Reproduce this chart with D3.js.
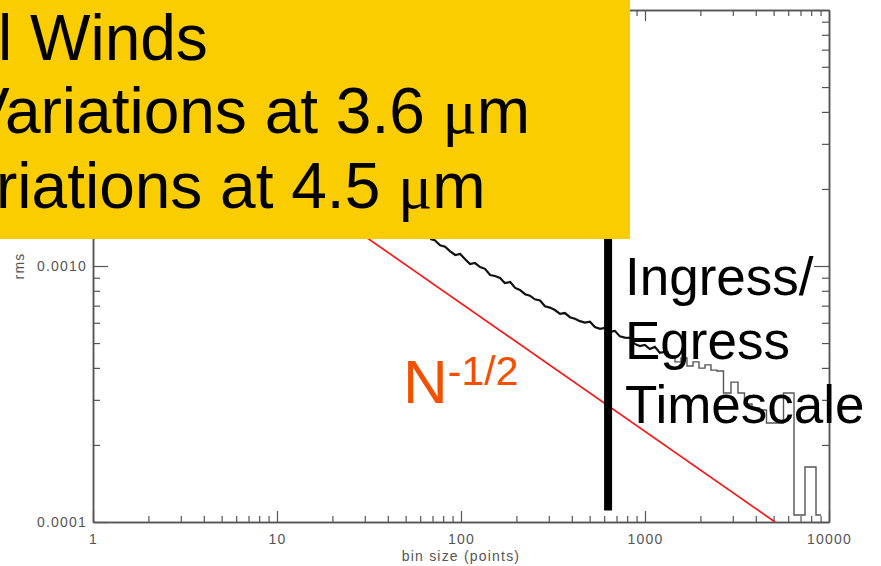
<!DOCTYPE html>
<html>
<head>
<meta charset="utf-8">
<script src="https://cdn.jsdelivr.net/npm/d3@7"></script>
<style>
  body { margin: 0; background: #fff; }
  svg { display: block; }
</style>
</head>
<body>
<div id="content"></div>
<script>
let width = 881;
let height = 566;
let margin = ({top: 10, right: 52, bottom: 44, left: 93});

// Major (labelled) ticks on both log axes
let xMajorTicks = [1, 10, 100, 1000, 10000];
let yMajorTicks = [0.0001, 0.001, 0.01];

// rms of the binned residuals, fine binning (noisy part of the curve)
let binSizeNoisy = [68, 72, 77, 82, 87, 93, 99, 105, 112, 119, 127, 135, 144, 153, 163, 173,
    185, 197, 209, 223, 237, 252, 269, 286, 304, 324, 345, 367, 391, 416, 443, 471,
    502, 534, 569, 605, 644, 686, 730, 777, 827, 881, 937, 998, 1062, 1131, 1204, 1281];
let rmsNoisy = [1.275e-3, 1.262e-3, 1.205e-3, 1.190e-3, 1.144e-3, 1.104e-3, 1.114e-3, 1.065e-3,
    1.018e-3, 1.027e-3, 0.990e-3, 0.975e-3, 0.922e-3, 0.914e-3, 0.898e-3, 0.858e-3,
    0.866e-3, 0.821e-3, 0.806e-3, 0.776e-3, 0.766e-3, 0.741e-3, 0.733e-3, 0.696e-3,
    0.688e-3, 0.673e-3, 0.650e-3, 0.655e-3, 0.631e-3, 0.622e-3, 0.609e-3, 0.601e-3,
    0.606e-3, 0.578e-3, 0.568e-3, 0.573e-3, 0.553e-3, 0.558e-3, 0.531e-3, 0.525e-3,
    0.524e-3, 0.496e-3, 0.487e-3, 0.492e-3, 0.474e-3, 0.483e-3, 0.458e-3, 0.462e-3];

// coarse binning, drawn as a histogram-style step line
let binSizeBinned = [1402, 1511, 1629, 1756, 1893, 2041, 2199, 2371, 2556, 2790, 3084,
    3324, 3628, 4012, 4379, 4778, 5282, 6062, 6871, 7983, 9047];
let rmsBinned = [0.445e-3, 0.422e-3, 0.437e-3, 0.407e-3, 0.422e-3, 0.399e-3, 0.411e-3,
    0.392e-3, 0.389e-3, 0.319e-3, 0.352e-3, 0.319e-3, 0.289e-3, 0.279e-3, 0.274e-3,
    0.2435e-3, 0.2435e-3, 0.319e-3, 0.1065e-3, 0.164e-3, 0.1065e-3];

// white-noise expectation N^-1/2 (end points)
let binSizeWhite = [20, 5090];
let rmsWhite = [1.6e-3, 1.0e-4];

// ingress/egress timescale marker
let ingressBinSize = 630;
let ingressRms = [1.11e-4, 1e-2];

let titleLines = ["l Winds", "Variations at 3.6 ", "riations at 4.5 "];
let noteLines = ["Ingress/", "Egress", "Timescale"];

let svg = d3.select("#content")
    .append("svg")
    .attr("width", width)
    .attr("height", height);

let xScale = d3.scaleLog()
    .domain([1, 10000])
    .range([margin.left, width - margin.right]);

let yScale = d3.scaleLog()
    .domain([0.0001, 0.01])
    .range([height - margin.bottom, margin.top]);

function isMajor(list, d) {
    return list.some(function(m) { return Math.abs(d - m) / m < 1e-6; });
}
let xMinorTicks = xScale.ticks().filter(function(d) { return !isMajor(xMajorTicks, d); });
let yMinorTicks = yScale.ticks().filter(function(d) { return !isMajor(yMajorTicks, d); });

let axisColor = "#555";
let axisFont = "'Liberation Sans', Arial, sans-serif";

function styleAxis(g) {
    g.select(".domain").attr("stroke", axisColor).attr("stroke-width", 1.5);
    g.selectAll(".tick line").attr("stroke", axisColor).attr("stroke-width", 1.2);
    g.selectAll(".tick text")
        .attr("fill", axisColor)
        .attr("font-family", axisFont)
        .attr("font-size", 14)
        .attr("letter-spacing", 1.2);
}

let bottom = height - margin.bottom;
let right = width - margin.right;

// bottom axis
svg.append("g")
    .attr("transform", "translate(0," + bottom + ")")
    .call(d3.axisBottom(xScale).tickValues(xMinorTicks).tickSizeInner(-6).tickSizeOuter(0).tickFormat(""))
    .call(styleAxis);
svg.append("g")
    .attr("transform", "translate(0," + bottom + ")")
    .call(d3.axisBottom(xScale).tickValues(xMajorTicks).tickSizeInner(-11).tickSizeOuter(0)
        .tickPadding(12).tickFormat(d3.format("d")))
    .call(styleAxis);

// top axis (no labels)
svg.append("g")
    .attr("transform", "translate(0," + margin.top + ")")
    .call(d3.axisTop(xScale).tickValues(xMinorTicks).tickSizeInner(-6).tickSizeOuter(0).tickFormat(""))
    .call(styleAxis);
svg.append("g")
    .attr("transform", "translate(0," + margin.top + ")")
    .call(d3.axisTop(xScale).tickValues(xMajorTicks).tickSizeInner(-11).tickSizeOuter(0).tickFormat(""))
    .call(styleAxis);

// left axis; the 0.0100 label sits under the yellow box, so it is left blank
let yFormat = d3.format(".4f");
svg.append("g")
    .attr("transform", "translate(" + margin.left + ",0)")
    .call(d3.axisLeft(yScale).tickValues(yMinorTicks).tickSizeInner(-7).tickSizeOuter(0).tickFormat(""))
    .call(styleAxis);
svg.append("g")
    .attr("transform", "translate(" + margin.left + ",0)")
    .call(d3.axisLeft(yScale).tickValues(yMajorTicks).tickSizeInner(-15).tickSizeOuter(0)
        .tickPadding(6).tickFormat(function(d) { return d < 0.005 ? yFormat(d) : ""; }))
    .call(styleAxis);

// right axis (no labels)
svg.append("g")
    .attr("transform", "translate(" + right + ",0)")
    .call(d3.axisRight(yScale).tickValues(yMinorTicks).tickSizeInner(-7).tickSizeOuter(0).tickFormat(""))
    .call(styleAxis);
svg.append("g")
    .attr("transform", "translate(" + right + ",0)")
    .call(d3.axisRight(yScale).tickValues(yMajorTicks).tickSizeInner(-15).tickSizeOuter(0).tickFormat(""))
    .call(styleAxis);

// axis titles
svg.append("text")
    .attr("x", (margin.left + right) / 2)
    .attr("y", 561)
    .attr("text-anchor", "middle")
    .attr("fill", axisColor)
    .attr("font-family", axisFont)
    .attr("font-size", 14)
    .attr("letter-spacing", 1.2)
    .text("bin size (points)");

svg.append("text")
    .attr("transform", "translate(24," + ((margin.top + bottom) / 2) + ") rotate(-90)")
    .attr("text-anchor", "middle")
    .attr("fill", axisColor)
    .attr("font-family", axisFont)
    .attr("font-size", 14)
    .attr("letter-spacing", 1.2)
    .text("rms");

// clip the data to the plot frame
svg.append("clipPath")
    .attr("id", "plot-clip")
    .append("rect")
    .attr("x", margin.left)
    .attr("y", margin.top)
    .attr("width", right - margin.left)
    .attr("height", bottom - margin.top);

let plot = svg.append("g").attr("clip-path", "url(#plot-clip)");

let line = d3.line()
    .x(function(d) { return xScale(d.n); })
    .y(function(d) { return yScale(d.rms); });

// N^-1/2 reference line
let whiteData = binSizeWhite.map(function(n, i) { return {n: n, rms: rmsWhite[i]}; });
plot.append("path")
    .datum(whiteData)
    .attr("fill", "none")
    .attr("stroke", "#ff1010")
    .attr("stroke-width", 1.6)
    .attr("d", line);

// measured rms curve
let noisyData = binSizeNoisy.map(function(n, i) { return {n: n, rms: rmsNoisy[i]}; });
let binnedData = [noisyData[noisyData.length - 1]].concat(
    binSizeBinned.map(function(n, i) { return {n: n, rms: rmsBinned[i]}; }));

plot.append("path")
    .datum(noisyData)
    .attr("fill", "none")
    .attr("stroke", "#111")
    .attr("stroke-width", 2.2)
    .attr("d", line);

plot.append("path")
    .datum(binnedData)
    .attr("fill", "none")
    .attr("stroke", "#555")
    .attr("stroke-width", 1.4)
    .attr("d", line.curve(d3.curveStep));

// ingress/egress marker bar
svg.append("line")
    .attr("x1", xScale(ingressBinSize))
    .attr("x2", xScale(ingressBinSize))
    .attr("y1", yScale(ingressRms[0]))
    .attr("y2", yScale(ingressRms[1]))
    .attr("stroke", "#000")
    .attr("stroke-width", 8);

// yellow slide box over the top-left corner
svg.append("rect")
    .attr("x", 0)
    .attr("y", 0)
    .attr("width", 630)
    .attr("height", 239)
    .attr("fill", "#f9cd00");

let bigFont = "'Liberation Sans', Arial, Helvetica, sans-serif";

let titleX = [-2, -33, -4];
let titleY = [60, 133, 208];
titleLines.forEach(function(t, i) {
    let txt = svg.append("text")
        .attr("x", titleX[i])
        .attr("y", titleY[i])
        .attr("font-family", bigFont)
        .attr("font-size", 64)
        .attr("fill", "#000")
        .text(t);
    if (i > 0) {
        txt.append("tspan").attr("font-family", "'Liberation Serif', 'Times New Roman', serif").text("\u03bc");
        txt.append("tspan").text("m");
    }
});

// N^-1/2 label
let nLabel = svg.append("text")
    .attr("x", 403)
    .attr("y", 403)
    .attr("font-family", bigFont)
    .attr("font-size", 62)
    .attr("fill", "#f24f00")
    .text("N");
nLabel.append("tspan")
    .attr("dy", -18)
    .attr("font-size", 41)
    .text("-1/2");

// ingress/egress note
noteLines.forEach(function(t, i) {
    svg.append("text")
        .attr("x", 625)
        .attr("y", 295 + i * 64)
        .attr("font-family", bigFont)
        .attr("font-size", 53)
        .attr("fill", "#000")
        .text(t);
});
</script>
</body>
</html>
